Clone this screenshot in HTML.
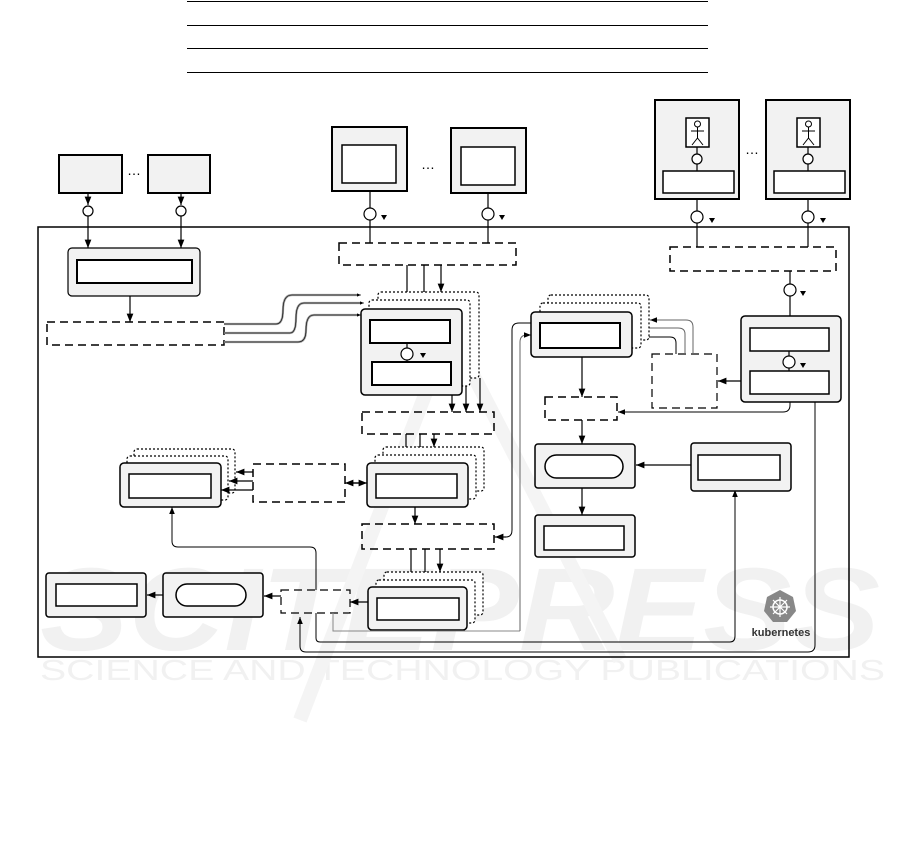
<!DOCTYPE html>
<html><head><meta charset="utf-8"><style>html,body{margin:0;padding:0;background:#fff}svg{display:block}</style></head>
<body>
<svg width="901" height="850" viewBox="0 0 901 850" xmlns="http://www.w3.org/2000/svg" font-family="Liberation Sans, sans-serif">
<defs>
<marker id="a" viewBox="0 0 10 10" refX="10" refY="5" markerWidth="7" markerHeight="7" orient="auto"><path d="M0,1 L10,5 L0,9z" fill="#000"/></marker>
</defs>
<!-- watermark -->
<g fill="#f1f1f1">
<text x="40" y="650" font-size="118" font-weight="bold" font-style="italic" textLength="840" lengthAdjust="spacingAndGlyphs">SCITEPRESS</text>
<text x="40" y="680" font-size="29" textLength="845" lengthAdjust="spacingAndGlyphs">SCIENCE AND TECHNOLOGY PUBLICATIONS</text>
</g>
<path d="M300,720 L450,330 L620,660" fill="none" stroke="#f4f4f4" stroke-width="14"/>
<!-- top table lines -->
<g stroke="#000" stroke-width="1">
<line x1="187" y1="1.5" x2="708" y2="1.5"/><line x1="187" y1="25.5" x2="708" y2="25.5"/><line x1="187" y1="48.5" x2="708" y2="48.5"/><line x1="187" y1="72.5" x2="708" y2="72.5"/>
</g>
<g fill="none" stroke="#000" stroke-width="1.2">
<rect x="38" y="227" width="811" height="430" stroke-width="1.5"/>
<rect x="59" y="155" width="63" height="38" fill="#f2f2f2" stroke-width="2"/>
<rect x="148" y="155" width="62" height="38" fill="#f2f2f2" stroke-width="2"/>
<line x1="88" y1="193" x2="88" y2="205" marker-end="url(#a)"/><circle cx="88" cy="211" r="5" fill="#fff"/>
<line x1="88" y1="216" x2="88" y2="248" marker-end="url(#a)"/>
<line x1="181" y1="193" x2="181" y2="205" marker-end="url(#a)"/><circle cx="181" cy="211" r="5" fill="#fff"/>
<line x1="181" y1="216" x2="181" y2="248" marker-end="url(#a)"/>
<rect x="68" y="248" width="132" height="48" rx="4" fill="#f2f2f2"/>
<rect x="77" y="260" width="115" height="23" fill="#fff" stroke-width="2"/>
<line x1="130" y1="296" x2="130" y2="322" marker-end="url(#a)"/>
<rect x="47" y="322" width="177" height="23" stroke-dasharray="8,5" stroke-width="1.5"/>
<path d="M224,324 H276 Q283,324 283,310 Q283,295 292,295 H357" stroke="#999" stroke-width="2.2"/>
<path d="M224,324 H276 Q283,324 283,310 Q283,295 292,295 H361" marker-end="url(#a)" stroke-width="0.6"/>
<path d="M224,333 H290 Q296,333 296,318 Q296,303 304,303 H360" stroke="#999" stroke-width="2.2"/>
<path d="M224,333 H290 Q296,333 296,318 Q296,303 304,303 H364" marker-end="url(#a)" stroke-width="0.6"/>
<path d="M224,342 H298 Q306,342 306,330 Q306,315 314,315 H357" stroke="#999" stroke-width="2.2"/>
<path d="M224,342 H298 Q306,342 306,330 Q306,315 314,315 H361" marker-end="url(#a)" stroke-width="0.6"/>
<rect x="332" y="127" width="75" height="64" fill="#f2f2f2" stroke-width="2"/>
<rect x="342" y="145" width="54" height="38" fill="#fff" stroke-width="1.5"/>
<rect x="451" y="128" width="75" height="65" fill="#f2f2f2" stroke-width="2"/>
<rect x="461" y="147" width="54" height="38" fill="#fff" stroke-width="1.5"/>
<line x1="370" y1="191" x2="370" y2="243"/><circle cx="370" cy="214" r="6" fill="#fff"/>
<line x1="488" y1="193" x2="488" y2="243"/><circle cx="488" cy="214" r="6" fill="#fff"/>
<rect x="339" y="243" width="177" height="22" stroke-dasharray="8,5" stroke-width="1.5"/>
<line x1="407" y1="265" x2="407" y2="309" marker-end="url(#a)"/>
<line x1="424" y1="265" x2="424" y2="300" marker-end="url(#a)"/>
<line x1="441" y1="265" x2="441" y2="292" marker-end="url(#a)"/>
<rect x="378" y="292" width="101" height="86" rx="3" stroke-dasharray="2,2" fill="#fff"/>
<rect x="369" y="300" width="101" height="86" rx="3" stroke-dasharray="2,2" fill="#fff"/>
<rect x="361" y="309" width="101" height="86" rx="4" fill="#f2f2f2" stroke-width="1.5"/>
<rect x="370" y="320" width="80" height="23" fill="#fff" stroke-width="2"/>
<line x1="407" y1="343" x2="407" y2="362"/>
<circle cx="407" cy="354" r="6" fill="#fff"/>
<rect x="372" y="362" width="79" height="23" fill="#fff" stroke-width="2"/>
<line x1="452" y1="395" x2="452" y2="412" marker-end="url(#a)"/>
<line x1="466" y1="386" x2="466" y2="412" marker-end="url(#a)"/>
<line x1="480" y1="378" x2="480" y2="412" marker-end="url(#a)"/>
<rect x="362" y="412" width="132" height="22" stroke-dasharray="8,5" stroke-width="1.5"/>
<line x1="406" y1="434" x2="406" y2="463" marker-end="url(#a)"/>
<line x1="420" y1="434" x2="420" y2="455" marker-end="url(#a)"/>
<line x1="434" y1="434" x2="434" y2="447" marker-end="url(#a)"/>
<rect x="383" y="447" width="101" height="44" rx="3" stroke-dasharray="2,2" fill="#fff"/>
<rect x="375" y="455" width="101" height="44" rx="3" stroke-dasharray="2,2" fill="#fff"/>
<rect x="367" y="463" width="101" height="44" rx="4" fill="#f2f2f2" stroke-width="1.5"/>
<rect x="376" y="474" width="81" height="24" fill="#fff" stroke-width="1.5"/>
<rect x="134" y="449" width="101" height="44" rx="3" stroke-dasharray="2,2" fill="#fff"/>
<rect x="127" y="456" width="101" height="44" rx="3" stroke-dasharray="2,2" fill="#fff"/>
<rect x="120" y="463" width="101" height="44" rx="4" fill="#f2f2f2" stroke-width="1.5"/>
<rect x="129" y="474" width="82" height="24" fill="#fff" stroke-width="1.5"/>
<rect x="253" y="464" width="92" height="38" stroke-dasharray="8,5" stroke-width="1.5"/>
<line x1="253" y1="472" x2="236" y2="472" marker-end="url(#a)"/>
<line x1="253" y1="481" x2="229" y2="481" marker-end="url(#a)"/>
<line x1="253" y1="490" x2="221" y2="490" marker-end="url(#a)"/>
<line x1="349" y1="483" x2="367" y2="483" marker-end="url(#a)"/>
<line x1="363" y1="483" x2="345" y2="483" marker-end="url(#a)"/>
<line x1="415" y1="507" x2="415" y2="524" marker-end="url(#a)"/>
<rect x="362" y="524" width="132" height="25" stroke-dasharray="8,5" stroke-width="1.5"/>
<line x1="411" y1="549" x2="411" y2="588" marker-end="url(#a)"/>
<line x1="425" y1="549" x2="425" y2="580" marker-end="url(#a)"/>
<line x1="440" y1="549" x2="440" y2="572" marker-end="url(#a)"/>
<rect x="384" y="572" width="99" height="43" rx="3" stroke-dasharray="2,2" fill="#fff"/>
<rect x="376" y="580" width="99" height="43" rx="3" stroke-dasharray="2,2" fill="#fff"/>
<rect x="368" y="587" width="99" height="43" rx="4" fill="#f2f2f2" stroke-width="1.5"/>
<rect x="377" y="598" width="82" height="22" fill="#fff" stroke-width="1.5"/>
<line x1="368" y1="602" x2="350" y2="602" marker-end="url(#a)"/>
<rect x="281" y="590" width="69" height="23" stroke-dasharray="8,5" stroke-width="1.2"/>
<line x1="281" y1="596" x2="264" y2="596" marker-end="url(#a)"/>
<rect x="163" y="573" width="100" height="44" rx="3" fill="#f2f2f2" stroke-width="1.5"/>
<rect x="176" y="584" width="70" height="22" rx="11" fill="#fff" stroke-width="1.5"/>
<line x1="163" y1="595" x2="147" y2="595" marker-end="url(#a)"/>
<rect x="46" y="573" width="100" height="44" rx="3" fill="#f2f2f2" stroke-width="1.5"/>
<rect x="56" y="584" width="81" height="22" fill="#fff" stroke-width="1.5"/>
<path d="M316,590 V553 Q316,547 310,547 H178 Q172,547 172,541 V507" marker-end="url(#a)" stroke-width="1"/>
<path d="M333,613 V631 H520" stroke="#888" stroke-width="1"/>
<path d="M316,613 V638 Q316,642 320,642 H730 Q735,642 735,636 V490" marker-end="url(#a)" stroke-width="1"/>
<path d="M815,402 V645 Q815,652 808,652 H306 Q300,652 300,646 V617" marker-end="url(#a)" stroke-width="1"/>
<path d="M520,631 V342 Q520,335 527,335 H531" marker-end="url(#a)" stroke="#666" stroke-width="1"/>
<path d="M494,537 H506 Q512,537 512,530 V330 Q512,323 519,323 H531" stroke-width="1"/>
<line x1="506" y1="537" x2="495" y2="537" marker-end="url(#a)"/>
<rect x="655" y="100" width="84" height="99" fill="#f2f2f2" stroke-width="2"/>
<rect x="766" y="100" width="84" height="99" fill="#f2f2f2" stroke-width="2"/>
<rect x="686" y="118" width="23" height="29" fill="#fff" stroke-width="1.5"/>
<rect x="797" y="118" width="23" height="29" fill="#fff" stroke-width="1.5"/>
<g stroke-width="1">
<circle cx="697.5" cy="124" r="3"/><path d="M697.5,127 V138 M691,131 H704 M697.5,138 L692,145 M697.5,138 L703,145"/>
<circle cx="808.5" cy="124" r="3"/><path d="M808.5,127 V138 M802,131 H815 M808.5,138 L803,145 M808.5,138 L814,145"/>
</g>
<line x1="697" y1="147" x2="697" y2="171"/><circle cx="697" cy="159" r="5" fill="#fff"/>
<line x1="808" y1="147" x2="808" y2="171"/><circle cx="808" cy="159" r="5" fill="#fff"/>
<rect x="663" y="171" width="71" height="22" fill="#fff" stroke-width="1.5"/>
<rect x="774" y="171" width="71" height="22" fill="#fff" stroke-width="1.5"/>
<line x1="697" y1="199" x2="697" y2="247"/><circle cx="697" cy="217" r="6" fill="#fff"/>
<line x1="808" y1="199" x2="808" y2="247"/><circle cx="808" cy="217" r="6" fill="#fff"/>
<rect x="670" y="247" width="166" height="24" stroke-dasharray="8,5" stroke-width="1.5"/>
<line x1="790" y1="271" x2="790" y2="316"/><circle cx="790" cy="290" r="6" fill="#fff"/>
<rect x="741" y="316" width="100" height="86" rx="4" fill="#f2f2f2" stroke-width="1.5"/>
<rect x="750" y="328" width="79" height="23" fill="#fff" stroke-width="1.5"/>
<line x1="789" y1="351" x2="789" y2="371"/><circle cx="789" cy="362" r="6" fill="#fff"/>
<rect x="750" y="371" width="79" height="23" fill="#fff" stroke-width="1.5"/>
<line x1="741" y1="381" x2="718" y2="381" marker-end="url(#a)"/>
<rect x="652" y="354" width="65" height="54" stroke-dasharray="8,5" stroke-width="1.2"/>
<path d="M693,354 V327 Q693,320 686,320 H650" marker-end="url(#a)" stroke="#666" stroke-width="1"/>
<path d="M685,354 V334 Q685,328 678,328 H641" marker-end="url(#a)" stroke="#666" stroke-width="1"/>
<path d="M676,354 V343 Q676,337 670,337 H633" marker-end="url(#a)" stroke-width="1"/>
<rect x="548" y="295" width="101" height="45" rx="3" stroke-dasharray="2,2" fill="#fff"/>
<rect x="540" y="303" width="101" height="45" rx="3" stroke-dasharray="2,2" fill="#fff"/>
<rect x="531" y="312" width="101" height="45" rx="4" fill="#f2f2f2" stroke-width="1.5"/>
<rect x="540" y="323" width="80" height="25" fill="#fff" stroke-width="2"/>
<line x1="582" y1="357" x2="582" y2="397" marker-end="url(#a)"/>
<rect x="545" y="397" width="72" height="23" stroke-dasharray="8,5" stroke-width="1.5"/>
<path d="M790,402 V405 Q790,412 783,412 H618" marker-end="url(#a)" stroke-width="1"/>
<line x1="582" y1="420" x2="582" y2="444" marker-end="url(#a)"/>
<rect x="535" y="444" width="100" height="44" rx="3" fill="#f2f2f2" stroke-width="1.5"/>
<rect x="545" y="455" width="78" height="23" rx="11.5" fill="#fff" stroke-width="1.5"/>
<rect x="691" y="443" width="100" height="48" rx="3" fill="#f2f2f2" stroke-width="1.5"/>
<rect x="698" y="455" width="82" height="25" fill="#fff" stroke-width="1.5"/>
<line x1="691" y1="465" x2="636" y2="465" marker-end="url(#a)"/>
<line x1="582" y1="488" x2="582" y2="515" marker-end="url(#a)"/>
<rect x="535" y="515" width="100" height="42" rx="3" fill="#f2f2f2" stroke-width="1.5"/>
<rect x="544" y="526" width="80" height="24" fill="#fff" stroke-width="1.5"/>
</g>
<g fill="#000">
<path d="M381,215 h6 l-3,5z"/><path d="M499,215 h6 l-3,5z"/><path d="M420,353 h6 l-3,5z"/>
<path d="M709,218 h6 l-3,5z"/><path d="M820,218 h6 l-3,5z"/><path d="M800,291 h6 l-3,5z"/><path d="M800,363 h6 l-3,5z"/>
</g>
<g font-size="14" fill="#000"><text x="127" y="175">…</text><text x="421" y="169">…</text><text x="745" y="154">…</text></g>
<polygon points="780,590 793,597 796,611 787,622 773,622 764,611 767,597" fill="#888"/>
<circle cx="780" cy="607" r="7" fill="none" stroke="#fff" stroke-width="1.5"/>
<path d="M780,597 V617 M770,607 H790 M773,600 L787,614 M787,600 L773,614" stroke="#fff" stroke-width="1.2"/>
<text x="781" y="636" font-size="11" font-weight="bold" text-anchor="middle" fill="#333">kubernetes</text>
</svg>
</body></html>
